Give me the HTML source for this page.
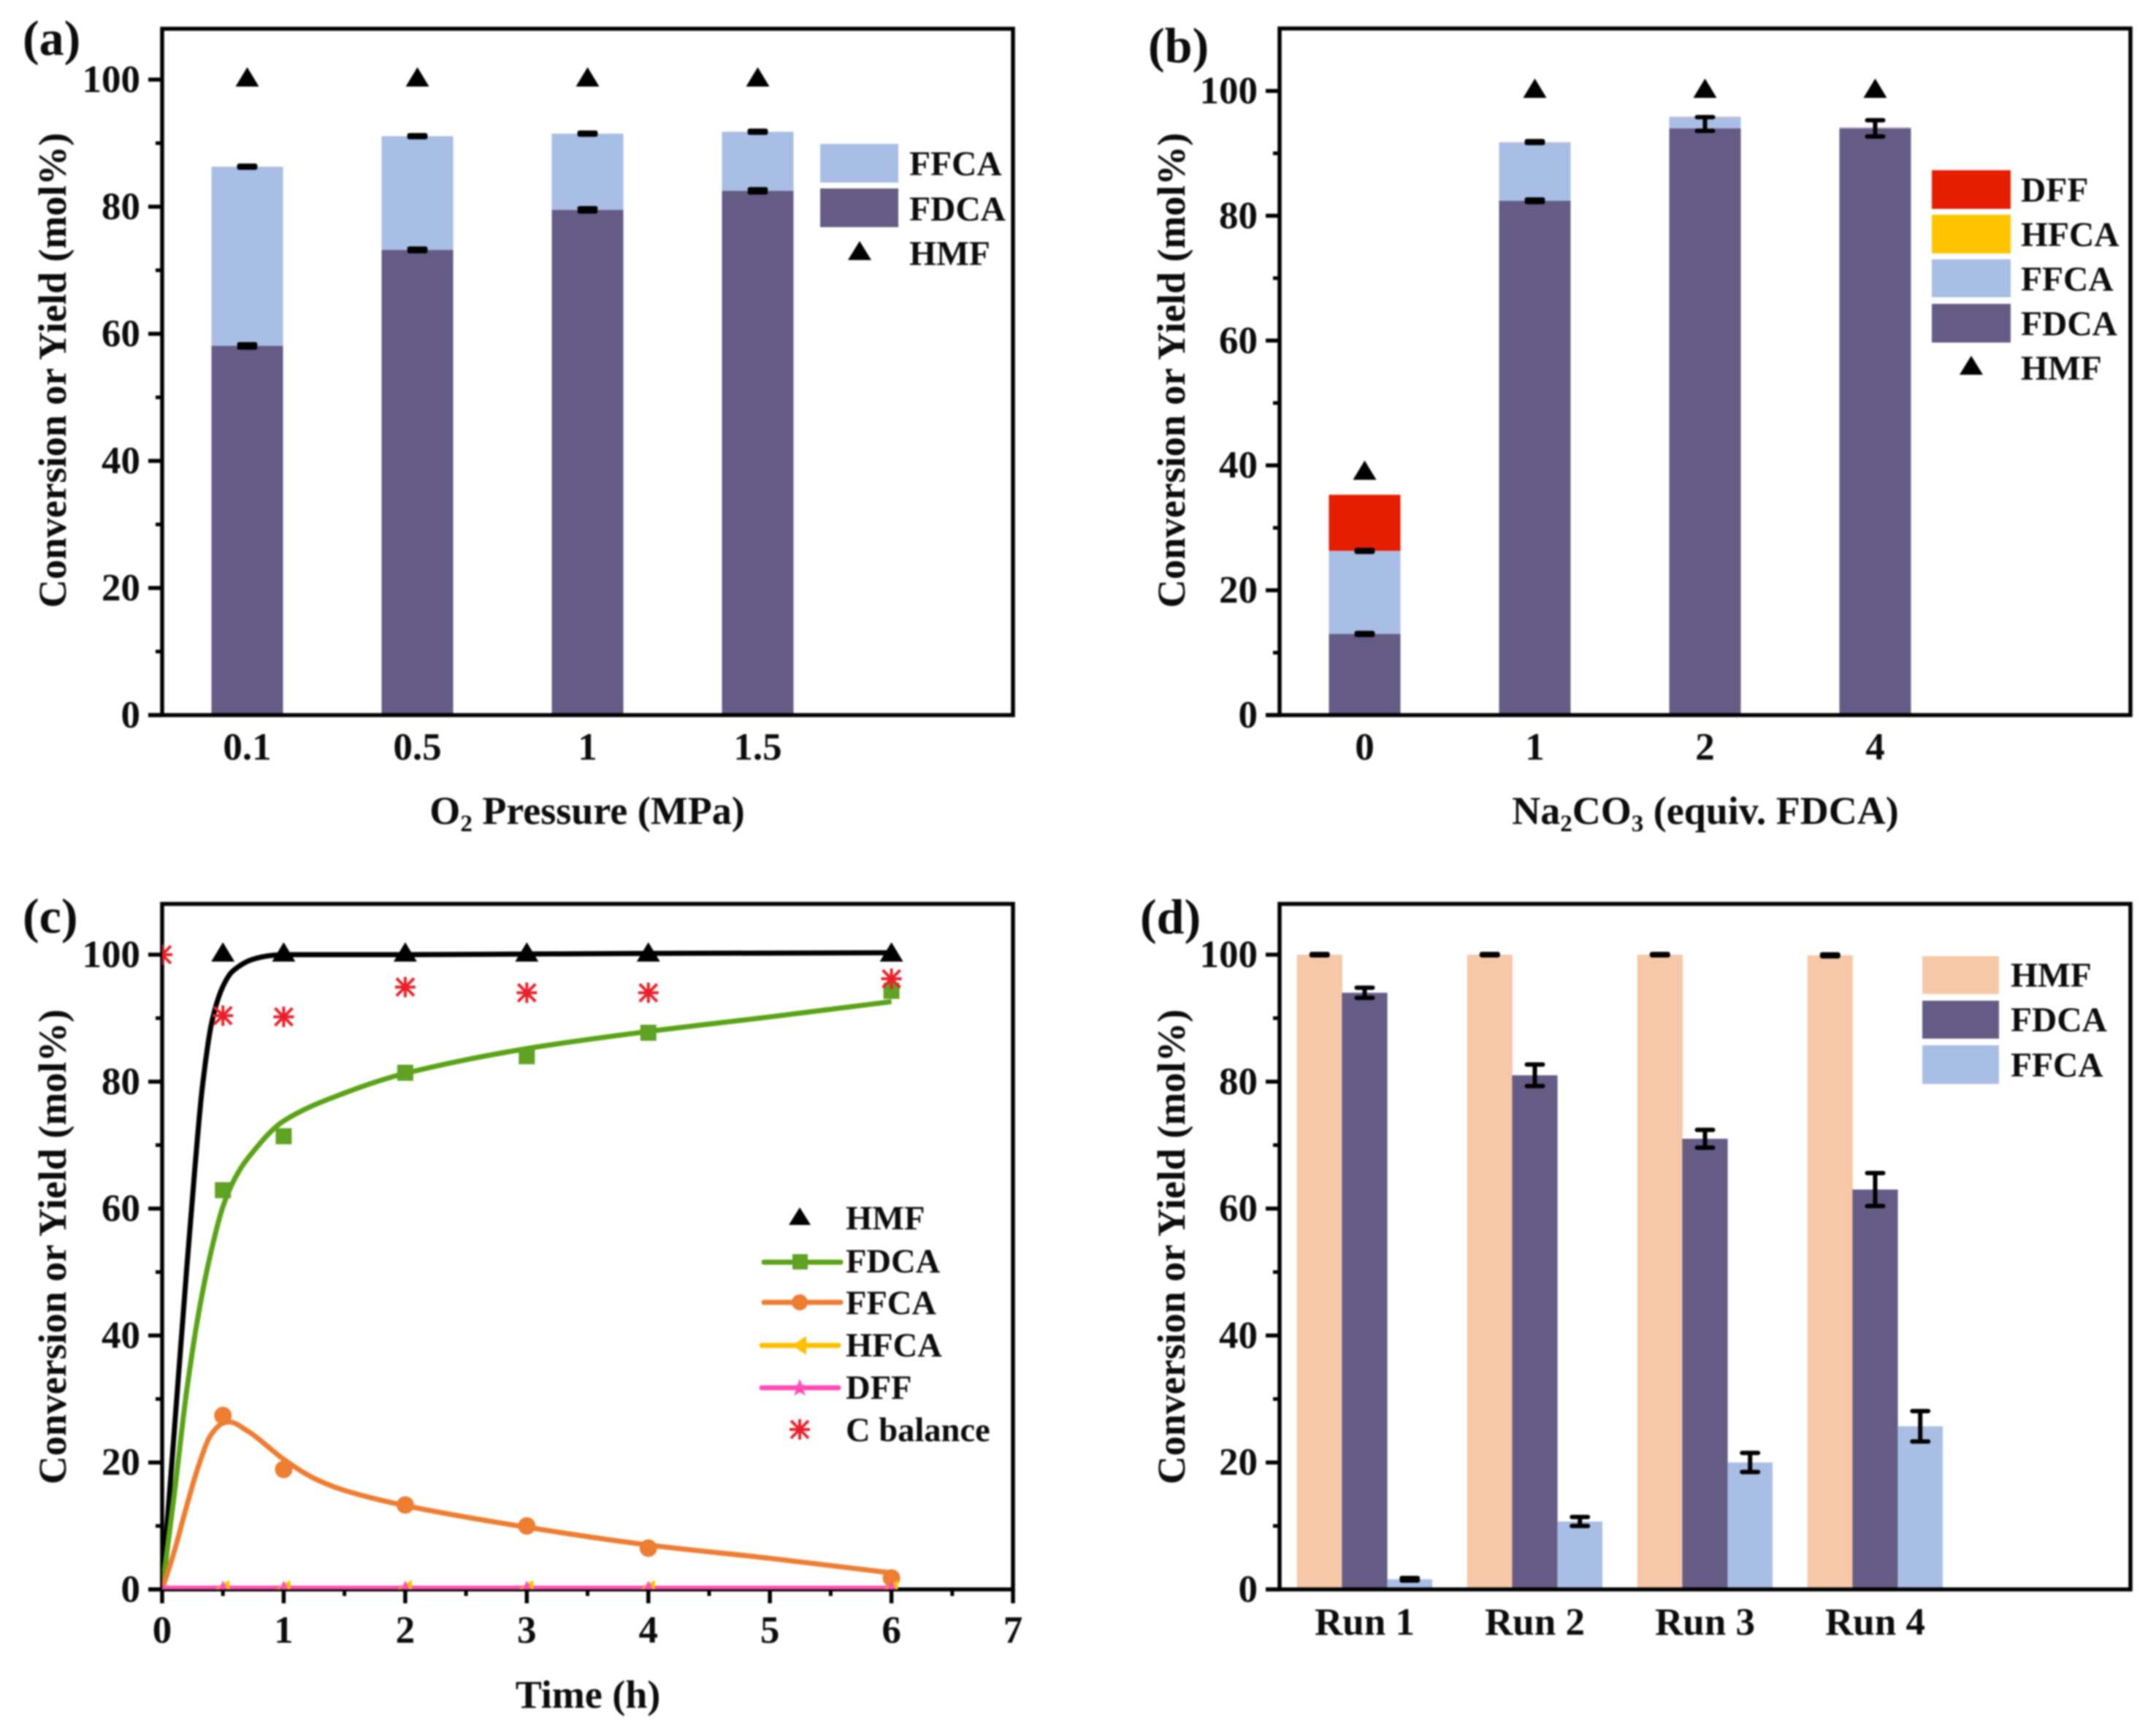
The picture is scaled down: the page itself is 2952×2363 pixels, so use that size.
<!DOCTYPE html>
<html lang="en">
<head>
<meta charset="utf-8">
<title>HMF oxidation: four-panel conversion and yield chart</title>
<style>
  html, body { margin: 0; padding: 0; background: #fff; }
  #figure { display: block; width: 2952px; height: 2363px; filter: blur(1px); }
  text { font-family: "Liberation Serif", "DejaVu Serif", serif; font-weight: bold; fill: #0c0c0c; }
  .title { font-size: 54px; }
  .tick { font-size: 53px; }
  .letter { font-size: 68px; }
  .leg { font-size: 47.5px; }
  .legc { font-size: 46.5px; }
  .sub { font-size: 33px; }
</style>
</head>
<body>
<svg id="figure" xmlns="http://www.w3.org/2000/svg" width="2952" height="2363" viewBox="0 0 2952 2363">
  <defs>
    <clipPath id="clip-c"><rect x="222" y="1237" width="1165" height="939"/></clipPath>
  </defs>
  <rect x="0" y="0" width="2952" height="2363" fill="#fff"/>

  <g id="panel-a"></g>
  <g id="panel-b"></g>
  <g id="panel-c"></g>
  <g id="panel-d"></g>

  <!-- panel letters -->
  <text class="letter" x="31" y="75">(a)</text>
  <text class="letter" x="1572" y="85">(b)</text>
  <text class="letter" x="31" y="1277">(c)</text>
  <text class="letter" x="1561" y="1278">(d)</text>

  <!-- axis titles -->
  <text class="title" transform="translate(90,507) rotate(-90)" text-anchor="middle">Conversion or Yield (mol%)</text>
  <text class="title" transform="translate(1622,507) rotate(-90)" text-anchor="middle">Conversion or Yield (mol%)</text>
  <text class="title" transform="translate(90,1707) rotate(-90)" text-anchor="middle">Conversion or Yield (mol%)</text>
  <text class="title" transform="translate(1622,1707) rotate(-90)" text-anchor="middle">Conversion or Yield (mol%)</text>

  <text class="title" x="804" y="1128" text-anchor="middle">O<tspan class="sub" dy="10">2</tspan><tspan dy="-10"> Pressure (MPa)</tspan></text>
  <text class="title" x="2335" y="1128" text-anchor="middle">Na<tspan class="sub" dy="10">2</tspan><tspan dy="-10">CO</tspan><tspan class="sub" dy="10">3</tspan><tspan dy="-10"> (equiv. FDCA)</tspan></text>
  <text class="title" x="805" y="2338" text-anchor="middle">Time (h)</text>

  <!-- legend a -->
  <g>
    <rect x="1123" y="197" width="107" height="53" fill="#A9BEE5"/>
    <rect x="1123" y="258" width="107" height="53" fill="#655C86"/>
    <path d="M1177 330 L1193 356 L1161 356 Z" fill="#000"/>
    <text class="leg" x="1245" y="240">FFCA</text>
    <text class="leg" x="1245" y="302">FDCA</text>
    <text class="leg" x="1245" y="363">HMF</text>
  </g>

  <!-- legend b -->
  <g>
    <rect x="2645" y="233" width="108" height="53" fill="#E61E00"/>
    <rect x="2645" y="294" width="108" height="53" fill="#FFC400"/>
    <rect x="2645" y="355" width="108" height="52" fill="#A9BEE5"/>
    <rect x="2645" y="416" width="108" height="53" fill="#655C86"/>
    <path d="M2699 487 L2715 513 L2683 513 Z" fill="#000"/>
    <text class="leg" x="2767" y="276">DFF</text>
    <text class="leg" x="2767" y="337">HFCA</text>
    <text class="leg" x="2767" y="398">FFCA</text>
    <text class="leg" x="2767" y="459">FDCA</text>
    <text class="leg" x="2767" y="520">HMF</text>
  </g>

  <!-- legend c -->
  <g>
    <path d="M1095 1653 L1110 1677 L1080 1677 Z" fill="#000"/>
    <line x1="1046" y1="1728" x2="1151" y2="1728" stroke="#5AA316" stroke-width="7" stroke-linecap="round"/>
    <rect x="1085" y="1717" width="21" height="21" fill="#5FA224"/>
    <line x1="1046" y1="1783" x2="1151" y2="1783" stroke="#ED7D31" stroke-width="7" stroke-linecap="round"/>
    <circle cx="1095" cy="1783" r="11" fill="#ED7D31"/>
    <line x1="1043" y1="1842" x2="1148" y2="1842" stroke="#FFC000" stroke-width="7" stroke-linecap="round"/>
    <path d="M1085 1842 L1104 1829 L1104 1855 Z" fill="#FFC000"/>
    <line x1="1043" y1="1900" x2="1148" y2="1900" stroke="#FF4DB8" stroke-width="7" stroke-linecap="round"/>
    <path d="M1095 1887 L1098 1896 L1107 1897 L1100 1903 L1103 1911 L1095 1906 L1087 1911 L1090 1903 L1083 1897 L1092 1896 Z" fill="#FF4DB8"/>
    <g stroke="#E8202A" stroke-width="4">
      <line x1="1095" y1="1943" x2="1095" y2="1971"/><line x1="1081" y1="1957" x2="1109" y2="1957"/>
      <line x1="1083" y1="1945" x2="1107" y2="1969"/><line x1="1083" y1="1969" x2="1107" y2="1945"/>
    </g>
    <text class="legc" x="1158" y="1683">HMF</text>
    <text class="legc" x="1158" y="1742">FDCA</text>
    <text class="legc" x="1158" y="1799">FFCA</text>
    <text class="legc" x="1158" y="1857">HFCA</text>
    <text class="legc" x="1158" y="1915">DFF</text>
    <text class="legc" x="1158" y="1973">C balance</text>
  </g>

  <!-- legend d -->
  <g>
    <rect x="2632" y="1309" width="105" height="52" fill="#F6C8A8"/>
    <rect x="2632" y="1370" width="105" height="52" fill="#655C86"/>
    <rect x="2632" y="1431" width="105" height="53" fill="#A9BEE5"/>
    <text class="leg" x="2753" y="1351">HMF</text>
    <text class="leg" x="2753" y="1412">FDCA</text>
    <text class="leg" x="2753" y="1474">FFCA</text>
  </g>
</svg>

<script>
// ---------- chart data ----------
const yTickLabels = [0, 20, 40, 60, 80, 100];
const yMinorTicks = [10, 30, 50, 70, 90];

// panel a
const aCategories = ['0.1', '0.5', '1', '1.5'];
const aFdca = [58.1, 73.2, 79.5, 82.5];
const aFfca = [28.2, 17.9, 12.0, 9.3];
const aHmf = [100, 100, 100, 100];
const aFdcaErr = [0.25, 0.2, 0.25, 0.25];
const aFfcaErr = [0.15, 0.15, 0.15, 0.15];

// panel b
const bCategories = ['0', '1', '2', '4'];
const bFdca = [13.0, 82.4, 94.0, 94.0];
const bFfca = [13.3, 9.3, 1.8, 0.1];
const bDff = [9.0, 0.1, 0.1, 0.1];
const bHmf = [38.8, 100, 100, 100];
const bErrCenters = [[13.0, 26.3], [82.4, 91.8], [94.7], [94.0]];
const bErrSizes = [[0.15, 0.15], [0.2, 0.15], [1.1], [1.3]];

// panel c
const cTimes = [0, 0.5, 1, 2, 3, 4, 6];
const cHmf = [0, 100, 100, 100, 100, 100, 100];
const cFdca = [0, 62.9, 71.4, 81.4, 84.0, 87.7, 94.3];
const cFfca = [0, 27.4, 18.9, 13.3, 10.0, 6.5, 1.8];
const cHfca = [0, 0, 0, 0, 0, 0, 0];
const cDff = [0, 0, 0, 0, 0, 0, 0];
const cBalance = [100, 90.4, 90.2, 94.9, 94.0, 94.0, 96.2];
const cXTickLabels = [0, 1, 2, 3, 4, 5, 6, 7];
const cXMinorTicks = [0.5, 1.5, 2.5, 3.5, 4.5, 5.5, 6.5];
// fitted curves
const hmfFitT = [0, 0.1, 0.2, 0.27, 0.33, 0.41, 0.5, 0.58, 0.75, 0.91, 1, 2, 3, 4, 6];
const hmfFitV = [0, 25, 50, 66.5, 79, 89.5, 95, 97.4, 99.3, 99.9, 100, 100, 100.1, 100.2, 100.3];
const fdcaFitT = [0, 0.1, 0.2, 0.3, 0.4, 0.5, 0.6, 0.7, 1, 1.5, 2, 3, 4, 5, 6];
const fdcaFitV = [0, 15, 31, 43.5, 53, 60.3, 64.8, 67.8, 73.8, 78.2, 81.3, 85.2, 87.9, 90.2, 92.6];
const ffcaFitT = [0, 0.1, 0.2, 0.3, 0.4, 0.5, 0.55, 0.7, 1, 1.25, 1.5, 2, 3, 4, 5, 6];
const ffcaFitV = [0, 6, 13, 19.5, 24.3, 26.2, 26.4, 25, 20.5, 17.5, 15.6, 13.2, 9.8, 7, 4.9, 2.6];
const zeroFitT = [0, 6];
const zeroFitV = [0.3, 0.3];

// panel d
const dCategories = ['Run 1', 'Run 2', 'Run 3', 'Run 4'];
const dHmf = [100, 100, 100, 99.9];
const dFdca = [94.0, 81.0, 71.0, 63.0];
const dFfca = [1.6, 10.7, 20.0, 25.7];
const dHmfErr = [0.1, 0.1, 0.1, 0.15];
const dFdcaErr = [0.8, 1.7, 1.4, 2.6];
const dFfcaErr = [0.2, 0.7, 1.5, 2.4];

// ---------- helpers ----------
const SVGNS = 'http://www.w3.org/2000/svg';
const C_FDCA = '#655C86', C_FFCA = '#A9BEE5', C_DFF = '#E61E00', C_HMFBAR = '#F6C8A8';
const C_GREEN = '#5AA316', C_ORANGE = '#ED7D31', C_YELLOW = '#FFC000', C_PINK = '#FF4DB8', C_STAR = '#E8202A';

function mk(parent, tag, attrs) {
  const el = document.createElementNS(SVGNS, tag);
  for (const k in attrs) el.setAttribute(k, attrs[k]);
  parent.appendChild(el);
  return el;
}
function makeScale(d0, d1, r0, r1) {
  return function (v) { return r0 + (v - d0) * (r1 - r0) / (d1 - d0); };
}

function drawFrame(g, left, right, top, bottom) {
  const box = mk(g, 'rect', { x: left, y: top, width: right - left, height: bottom - top, fill: 'none', stroke: '#000', 'stroke-width': 5.5 });
  
  
}

function drawYAxis(g, y, left) {
  yTickLabels.forEach(function (v) {
    const t = mk(g, 'line', { x1: left - 19, x2: left, y1: y(v), y2: y(v), stroke: '#000', 'stroke-width': 5.5 });
    
    
    const l = mk(g, 'text', { class: 'tick', x: left - 30, y: y(v) + 17, 'text-anchor': 'end' });
    l.textContent = String(v);
    
    
  });
  yMinorTicks.forEach(function (v) {
    const t = mk(g, 'line', { x1: left - 9, x2: left, y1: y(v), y2: y(v), stroke: '#000', 'stroke-width': 5 });
    
    
  });
}

function drawCategoryLabels(g, cats, x, yPos) {
  cats.forEach(function (c, i) {
    const l = mk(g, 'text', { class: 'tick', x: x(i), y: yPos, 'text-anchor': 'middle' });
    l.textContent = c;
    
    
  });
}

function drawBar(g, cx, w, yTop, yBottom, fill, name) {
  const r = mk(g, 'rect', { x: cx - w / 2, y: yTop, width: w, height: yBottom - yTop, fill: fill });
  
  
}

function drawError(g, cx, y, center, err, name) {
  const e = mk(g, 'path', {
    d: 'M' + (cx - 11) + ' ' + y(center + err) + 'H' + (cx + 11) +
       'M' + cx + ' ' + y(center + err) + 'V' + y(center - err) +
       'M' + (cx - 11) + ' ' + y(center - err) + 'H' + (cx + 11),
    fill: 'none', stroke: '#000', 'stroke-width': 6, 'stroke-linecap': 'round'
  });
  
  
}

function drawTriangle(g, px, py, name) {
  const t = mk(g, 'path', {
    d: 'M' + px + ' ' + (py - 17) + 'L' + (px + 16) + ' ' + (py + 9.5) + 'L' + (px - 16) + ' ' + (py + 9.5) + 'Z',
    fill: '#000'
  });
  
  
}

function drawAsterisk(g, px, py, name) {
  const s = mk(g, 'path', {
    d: 'M' + px + ' ' + (py - 14) + 'V' + (py + 14) +
       'M' + (px - 14) + ' ' + py + 'H' + (px + 14) +
       'M' + (px - 12) + ' ' + (py - 12) + 'L' + (px + 12) + ' ' + (py + 12) +
       'M' + (px - 12) + ' ' + (py + 12) + 'L' + (px + 12) + ' ' + (py - 12),
    stroke: C_STAR, 'stroke-width': 4, fill: 'none'
  });
  
  
}

// monotone cubic path through traced points
function curvePath(ts, vs, x, y) {
  const n = ts.length, px = ts.map(x), py = vs.map(y);
  if (n === 2) return 'M' + px[0] + ' ' + py[0] + 'L' + px[1] + ' ' + py[1];
  const dx = [], s = [], m = new Array(n);
  for (let i = 0; i < n - 1; i++) { dx[i] = px[i + 1] - px[i]; s[i] = (py[i + 1] - py[i]) / dx[i]; }
  m[0] = s[0]; m[n - 1] = s[n - 2];
  for (let i = 1; i < n - 1; i++) {
    m[i] = s[i - 1] * s[i] <= 0 ? 0 : 2 * s[i - 1] * s[i] / (s[i - 1] + s[i]);
  }
  let d = 'M' + px[0] + ' ' + py[0];
  for (let i = 0; i < n - 1; i++) {
    d += 'C' + (px[i] + dx[i] / 3) + ' ' + (py[i] + m[i] * dx[i] / 3) + ' ' +
         (px[i + 1] - dx[i] / 3) + ' ' + (py[i + 1] - m[i + 1] * dx[i] / 3) + ' ' + px[i + 1] + ' ' + py[i + 1];
  }
  return d;
}

// ---------- panel a ----------
(function () {
  const g = document.getElementById('panel-a');
  const x = makeScale(-0.5, 4.5, 222, 1387);
  const y = makeScale(0, 108, 979, 39.4);
  aCategories.forEach(function (c, i) {
    drawBar(g, x(i), 98, y(aFdca[i] + aFfca[i]), y(aFdca[i]), C_FFCA, 'bar-ffca-' + c);
    drawBar(g, x(i), 98, y(aFdca[i]), y(0), C_FDCA, 'bar-fdca-' + c);
  });
  drawFrame(g, 222, 1387, 39.4, 979);
  drawYAxis(g, y, 222);
  const base = mk(g, 'line', { x1: 203, x2: 222, y1: 979, y2: 979, stroke: '#000', 'stroke-width': 5.5 });
  
  
  aCategories.forEach(function (c, i) {
    drawError(g, x(i), y, aFdca[i], aFdcaErr[i], 'error-bar-fdca-' + c);
    drawError(g, x(i), y, aFdca[i] + aFfca[i], aFfcaErr[i], 'error-bar-ffca-' + c);
    drawTriangle(g, x(i), y(aHmf[i]), 'marker-hmf-' + c);
  });
  drawCategoryLabels(g, aCategories, x, 1040);
})();

// ---------- panel b ----------
(function () {
  const g = document.getElementById('panel-b');
  const x = makeScale(-0.5, 4.5, 1752, 2917);
  const y = makeScale(0, 110, 979, 39);
  bCategories.forEach(function (c, i) {
    const t1 = bFdca[i], t2 = t1 + bFfca[i], t3 = t2 + bDff[i];
    drawBar(g, x(i), 98, y(t3), y(t2), i === 0 ? C_DFF : '#F4B8B0', 'bar-dff-' + c);
    drawBar(g, x(i), 98, y(t2), y(t1), C_FFCA, 'bar-ffca-' + c);
    drawBar(g, x(i), 98, y(t1), y(0), C_FDCA, 'bar-fdca-' + c);
  });
  drawFrame(g, 1752, 2917, 39, 979);
  drawYAxis(g, y, 1752);
  const base = mk(g, 'line', { x1: 1733, x2: 1752, y1: 979, y2: 979, stroke: '#000', 'stroke-width': 5.5 });
  
  
  bCategories.forEach(function (c, i) {
    bErrCenters[i].forEach(function (v, k) {
      drawError(g, x(i), y, v, bErrSizes[i][k], 'error-bar-' + c + '-' + k);
    });
    drawTriangle(g, x(i), y(bHmf[i]), 'marker-hmf-' + c);
  });
  drawCategoryLabels(g, bCategories, x, 1040);
})();

// ---------- panel c ----------
(function () {
  const g = document.getElementById('panel-c');
  const x = makeScale(0, 7, 222, 1387);
  const y = makeScale(0, 108, 2176, 1237.5);
  drawFrame(g, 222, 1387, 1237.5, 2176);
  drawYAxis(g, y, 222);
  const base = mk(g, 'line', { x1: 203, x2: 222, y1: 2176, y2: 2176, stroke: '#000', 'stroke-width': 5.5 });
  
  
  cXTickLabels.forEach(function (v) {
    const t = mk(g, 'line', { x1: x(v), x2: x(v), y1: 2176, y2: 2195, stroke: '#000', 'stroke-width': 5.5 });
    
    
    const l = mk(g, 'text', { class: 'tick', x: x(v), y: 2249, 'text-anchor': 'middle' });
    l.textContent = String(v);
    
    
  });
  cXMinorTicks.forEach(function (v) {
    const t = mk(g, 'line', { x1: x(v), x2: x(v), y1: 2176, y2: 2185, stroke: '#000', 'stroke-width': 5 });
    
    
  });

  const plot = mk(g, 'g', { 'clip-path': 'url(#clip-c)' });
  
  

  const lineHmf = mk(plot, 'path', { d: curvePath(hmfFitT, hmfFitV, x, y), fill: 'none', stroke: '#000', 'stroke-width': 7 });
  
  
  const lineFdca = mk(plot, 'path', { d: curvePath(fdcaFitT, fdcaFitV, x, y), fill: 'none', stroke: C_GREEN, 'stroke-width': 7 });
  
  
  const lineFfca = mk(plot, 'path', { d: curvePath(ffcaFitT, ffcaFitV, x, y), fill: 'none', stroke: C_ORANGE, 'stroke-width': 7 });
  
  
  const lineHfca = mk(plot, 'path', { d: curvePath(zeroFitT, zeroFitV, x, y), fill: 'none', stroke: C_YELLOW, 'stroke-width': 5 });
  
  
  const lineDff = mk(plot, 'path', { d: curvePath(zeroFitT, zeroFitV, x, y), fill: 'none', stroke: C_PINK, 'stroke-width': 5 });
  
  

  cTimes.forEach(function (t, i) {
    const px = x(t);
    if (i > 0) {
      drawTriangle(plot, px, y(cHmf[i]), 'marker-hmf-t' + t);
      const sq = mk(plot, 'rect', { x: px - 11, y: y(cFdca[i]) - 11, width: 22, height: 22, fill: '#5FA224' });
      
      
      const ci = mk(plot, 'circle', { cx: px, cy: y(cFfca[i]), r: 12, fill: C_ORANGE });
      
      
      const hf = mk(plot, 'path', {
        d: 'M' + (px - 11) + ' ' + y(cHfca[i]) + 'L' + (px + 9) + ' ' + (y(cHfca[i]) - 13) + 'L' + (px + 9) + ' ' + (y(cHfca[i]) + 13) + 'Z',
        fill: C_YELLOW
      });
      
      
      const df = mk(plot, 'path', {
        d: 'M' + px + ' ' + (y(cDff[i]) - 12) + 'L' + (px + 6) + ' ' + y(cDff[i]) + 'L' + (px - 6) + ' ' + y(cDff[i]) + 'Z',
        fill: C_PINK
      });
      
      
    }
    drawAsterisk(plot, px, y(cBalance[i]), 'marker-c-balance-t' + t);
  });
})();

// ---------- panel d ----------
(function () {
  const g = document.getElementById('panel-d');
  const x = makeScale(-0.5, 4.5, 1752, 2917);
  const y = makeScale(0, 108, 2176, 1237.5);
  const w = 61.7;
  dCategories.forEach(function (c, i) {
    drawBar(g, x(i) - w, w + 0.5, y(dHmf[i]), y(0), C_HMFBAR, 'bar-hmf-' + c);
    drawBar(g, x(i), w + 0.5, y(dFdca[i]), y(0), C_FDCA, 'bar-fdca-' + c);
    drawBar(g, x(i) + w, w, y(dFfca[i]), y(0), C_FFCA, 'bar-ffca-' + c);
  });
  drawFrame(g, 1752, 2917, 1237.5, 2176);
  drawYAxis(g, y, 1752);
  const base = mk(g, 'line', { x1: 1733, x2: 1752, y1: 2176, y2: 2176, stroke: '#000', 'stroke-width': 5.5 });
  
  
  dCategories.forEach(function (c, i) {
    drawError(g, x(i) - w, y, dHmf[i], dHmfErr[i], 'error-bar-hmf-' + c);
    drawError(g, x(i), y, dFdca[i], dFdcaErr[i], 'error-bar-fdca-' + c);
    drawError(g, x(i) + w, y, dFfca[i], dFfcaErr[i], 'error-bar-ffca-' + c);
  });
  drawCategoryLabels(g, dCategories, x, 2238);
})();
</script>
</body>
</html>
